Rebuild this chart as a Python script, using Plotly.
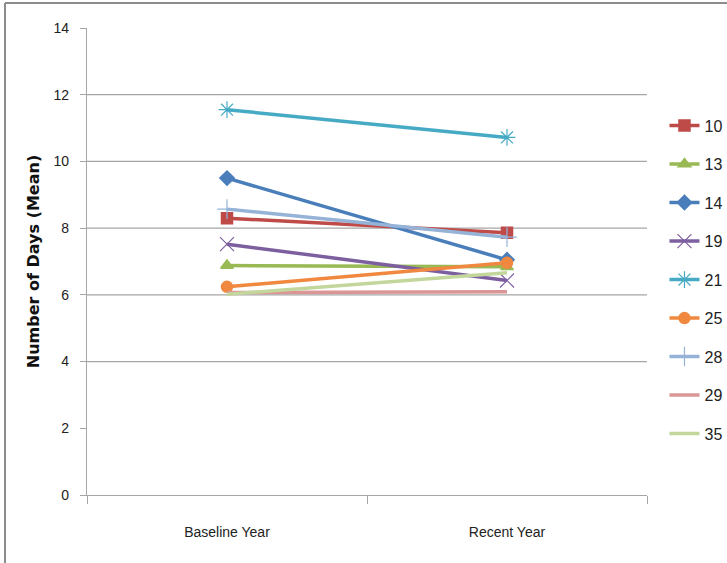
import plotly.graph_objects as go

# Mean number of days per site, baseline vs. recent year
categories = ["Baseline Year", "Recent Year"]
series_names = ["10", "13", "14", "19", "21", "25", "28", "29", "35"]
series_values = {
    "10": [8.30, 7.86],
    "13": [6.88, 6.84],
    "14": [9.50, 7.05],
    "19": [7.52, 6.43],
    "21": [11.55, 10.72],
    "25": [6.24, 6.96],
    "28": [8.57, 7.73],
    "29": [6.07, 6.09],
    "35": [6.02, 6.66],
}
y_ticks = [0, 2, 4, 6, 8, 10, 12, 14]
grid_values = [4, 6, 8, 10, 12]

colors = {
    "10": "#BE4B48", "13": "#98B954", "14": "#4A7EBB", "19": "#7D5FA0",
    "21": "#46AAC5", "25": "#F0883F", "28": "#95B3D7", "29": "#D99694",
    "35": "#C3D69B",
}
symbols = {
    "10": "square", "13": "triangle-up", "14": "diamond", "19": "x-thin",
    "21": "asterisk", "25": "circle", "28": "cross-thin", "29": None, "35": None,
}

fig = go.Figure()
for name in series_names:
    sym = symbols[name]
    c = colors[name]
    marker = dict(color=c, size=11, line=dict(color=c, width=1.5))
    if sym in ("x-thin", "asterisk", "cross-thin"):
        marker = dict(symbol=sym, size=14, color=c, line=dict(color=c, width=1.2))
    elif sym:
        marker["symbol"] = sym
    fig.add_trace(go.Scatter(
        x=categories, y=series_values[name], name=name,
        legendgroup=name,
        mode="lines+markers" if sym else "lines",
        line=dict(color=c, width=3.5),
        marker=marker if sym else None,
    ))

shapes = []
for g in grid_values:
    shapes.append(dict(type="line", xref="paper", yref="y", x0=0, x1=1,
                       y0=g, y1=g, line=dict(color="#A6A6A6", width=1.3),
                       layer="below"))
# outer chart frame (top and left edges)
shapes.append(dict(type="line", xref="paper", yref="paper",
                   x0=-0.1464, x1=1.3, y0=1.0535, y1=1.0535,
                   line=dict(color="#8C8C8C", width=2)))
shapes.append(dict(type="line", xref="paper", yref="paper",
                   x0=-0.1464, x1=-0.1464, y0=-0.2, y1=1.0535,
                   line=dict(color="#8C8C8C", width=2)))

tick_font = dict(family="Liberation Sans, Arial", size=14, color="#222222")

fig.update_layout(
    width=727, height=563,
    margin=dict(l=87, r=80, t=28, b=68),
    paper_bgcolor="white", plot_bgcolor="white",
    shapes=shapes,
    showlegend=True,
    legend=dict(
        xref="container", yref="container",
        x=0.914, xanchor="left", y=0.807, yanchor="top",
        maxheight=500,
        font=dict(family="Liberation Sans, Arial", size=16, color="#222222"),
        tracegroupgap=14.7, itemwidth=30,
        bgcolor="rgba(0,0,0,0)",
    ),
    xaxis=dict(
        type="category", range=[-0.5, 1.5], tickson="boundaries",
        ticks="outside", ticklen=8, tickcolor="#A6A6A6",
        showline=True, linecolor="#A6A6A6", linewidth=1.3,
        showgrid=False, tickfont=tick_font, ticklabelstandoff=24,
    ),
    yaxis=dict(
        range=[0, 14], tickvals=y_ticks, ticks="outside", ticklen=6,
        tickcolor="#A6A6A6", showline=True, linecolor="#A6A6A6", linewidth=1.3,
        showgrid=False, zeroline=False, tickfont=tick_font, ticklabelstandoff=8,
        title=dict(text="<b>Number of Days (Mean)</b>",
                   font=dict(family="DejaVu Sans, Verdana", size=16, color="#111111"),
                   standoff=9),
    ),
)

fig.write_html("out.html")
